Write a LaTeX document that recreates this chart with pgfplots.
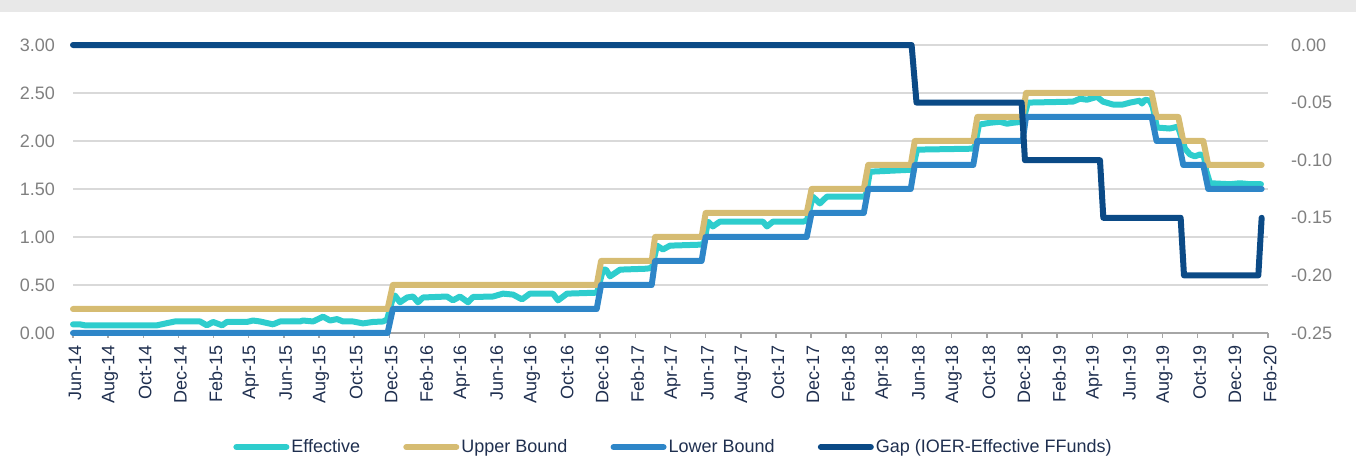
\documentclass[border=0pt]{standalone}
\usepackage{fontspec}
\setmainfont{Liberation Sans}
\usepackage{pgfplots}
\pgfplotsset{compat=1.18}
\definecolor{effc}{HTML}{2ECDCD}
\definecolor{upc}{HTML}{D6BC72}
\definecolor{lowc}{HTML}{2E86C8}
\definecolor{gapc}{HTML}{0B4A86}
\definecolor{gridc}{HTML}{D9D9D9}
\definecolor{axc}{HTML}{A6A6A6}
\definecolor{ytc}{HTML}{808080}
\definecolor{xtc}{HTML}{1F2F4F}
\definecolor{bandc}{HTML}{E8E8E8}
\pgfplotsset{
  common/.style={
    at={(36.5pt,66.5pt)}, anchor=south west, scale only axis,
    width=597.5pt, height=144pt, xmin=0, xmax=68, clip=false,
    ticklabel style={font=\fontsize{9}{10}\selectfont},
    /pgf/number format/assume math mode=true,
    /pgf/number format/.cd, fixed, fixed zerofill, precision=2,
  },
  ser/.style={line width=3pt, line join=round, line cap=round, mark=none},
}
\begin{document}
\begin{tikzpicture}[x=1pt,y=1pt]
\fill[bandc] (0,227) rectangle (678,233);
\path[use as bounding box] (0,0) rectangle (678,233);
\begin{axis}[common,
  ymin=0, ymax=3,
  axis x line*=bottom, axis y line*=left,
  x axis line style={draw=axc, line width=0.75pt, -},
  y axis line style={draw=none},
  xtick={0,2,...,68},
  xticklabels={Jun-14,Aug-14,Oct-14,Dec-14,Feb-15,Apr-15,Jun-15,Aug-15,Oct-15,Dec-15,Feb-16,Apr-16,Jun-16,Aug-16,Oct-16,Dec-16,Feb-17,Apr-17,Jun-17,Aug-17,Oct-17,Dec-17,Feb-18,Apr-18,Jun-18,Aug-18,Oct-18,Dec-18,Feb-19,Apr-19,Jun-19,Aug-19,Oct-19,Dec-19,Feb-20},
  x tick label style={rotate=90, anchor=east, text=xtc, xshift=0pt, yshift=-1pt},
  xtick style={draw=axc, line width=0.75pt},
  xtick align=outside, major tick length=2.5pt,
  ytick={0,0.5,1,1.5,2,2.5,3},
  ytick style={draw=none},
  y tick label style={text=ytc, xshift=-5.5pt},
  ymajorgrids, grid style={gridc, line width=0.75pt},
]
\addplot[ser, effc] coordinates {
(0,0.09)(0.40,0.09)(0.68,0.08)(4.78,0.08)(5.41,0.105)(5.80,0.12)(7.23,0.12)(7.62,0.08)
(7.97,0.115)(8.48,0.08)(8.76,0.115)(9.90,0.115)(10.24,0.13)(10.64,0.12)(11.38,0.09)
(11.78,0.12)(12.91,0.12)(13.09,0.13)(13.66,0.12)(14.23,0.17)(14.63,0.13)(15.02,0.145)
(15.37,0.12)(15.93,0.12)(16.50,0.10)(17.07,0.115)(17.64,0.12)(17.87,0.14)(18.21,0.37)
(18.32,0.39)(18.61,0.32)(19.01,0.37)(19.35,0.38)(19.63,0.32)(19.92,0.37)(21.28,0.38)
(21.62,0.34)(22.02,0.38)(22.48,0.32)(22.76,0.375)(23.90,0.38)(24.47,0.41)(25.04,0.40)
(25.55,0.35)(26.00,0.41)(27.31,0.41)(27.60,0.34)(28.11,0.41)(29.82,0.42)(30.16,0.66)
(30.33,0.66)(30.56,0.59)(31.13,0.66)(32.66,0.67)(32.95,0.68)(33.23,0.91)(33.57,0.87)
(33.97,0.91)(35.68,0.92)(35.90,0.93)(36.13,1.16)(36.41,1.11)(36.81,1.16)(39.26,1.16)
(39.49,1.11)(39.83,1.16)(41.54,1.16)(41.76,1.17)(42.10,1.42)(42.50,1.35)(42.90,1.42)
(45.01,1.42)(45.12,1.44)(45.35,1.68)(47.63,1.70)(47.80,1.72)(48.03,1.91)(51.21,1.92)
(51.33,1.95)(51.55,2.17)(52.18,2.19)(52.75,2.20)(53.15,2.18)(53.49,2.19)(54.00,2.20)
(54.12,2.25)(54.34,2.40)(56.90,2.41)(57.30,2.44)(57.70,2.43)(58.27,2.46)(58.61,2.41)
(59.18,2.38)(59.75,2.38)(60.15,2.40)(60.71,2.42)(60.83,2.39)(61.00,2.43)(61.28,2.42)
(61.45,2.35)(61.68,2.14)(62.42,2.13)(62.88,2.15)(63.05,2.05)(63.28,1.92)(63.56,1.86)
(63.84,1.84)(64.13,1.86)(64.36,1.84)(64.47,1.70)(64.70,1.56)(65.84,1.55)(66.41,1.56)
(66.98,1.55)(67.60,1.55)
};
\addplot[ser, upc] coordinates {
(0,0.25)(17.9,0.25)(18.2,0.5)(29.8,0.5)(30.05,0.75)(32.93,0.75)(33.12,1.0)(35.77,1.0)
(36.0,1.25)(41.75,1.25)(42.03,1.5)(45.0,1.5)(45.25,1.75)(47.67,1.75)(47.9,2.0)(51.23,2.0)
(51.46,2.25)(54.04,2.25)(54.23,2.5)(61.38,2.5)(61.66,2.25)(62.9,2.25)(63.18,2.0)(64.32,2.0)
(64.6,1.75)(67.64,1.75)
};
\addplot[ser, lowc] coordinates {
(0,0)(17.9,0)(18.2,0.25)(29.8,0.25)(30.05,0.5)(32.93,0.5)(33.12,0.75)(35.77,0.75)
(36.0,1.0)(41.75,1.0)(42.03,1.25)(45.0,1.25)(45.25,1.5)(47.67,1.5)(47.9,1.75)(51.23,1.75)
(51.46,2.0)(54.04,2.0)(54.23,2.25)(61.38,2.25)(61.66,2.0)(62.9,2.0)(63.18,1.75)(64.32,1.75)
(64.6,1.5)(67.64,1.5)
};
\end{axis}
\begin{axis}[common,
  ymin=-0.25, ymax=0,
  axis x line=none, axis y line*=right,
  y axis line style={draw=none},
  ytick={-0.25,-0.2,-0.15,-0.1,-0.05,0},
  ytick style={draw=none},
  y tick label style={text=ytc, xshift=8pt},
  legend style={at={(0.5025,-0.396)}, anchor=center, draw=none, fill=none,
    legend columns=4, font=\fontsize{9}{10}\selectfont, text=xtc,
    nodes={inner sep=1pt},
    /tikz/every even column/.append style={column sep=20.6pt}},
  legend image code/.code={\draw[#1, line width=3pt, line cap=round] (1.5pt,0pt) -- (26.5pt,0pt);},
]
\addlegendimage{effc}
\addlegendimage{upc}
\addlegendimage{lowc}
\addplot[ser, gapc] coordinates {
(0,0)(47.72,0)(48.0,-0.05)(53.98,-0.05)(54.17,-0.10)(58.44,-0.10)(58.63,-0.15)
(63.03,-0.15)(63.22,-0.20)(67.45,-0.20)(67.64,-0.15)
};
\legend{Effective,Upper Bound,Lower Bound,Gap (IOER-Effective FFunds)}
\end{axis}
\end{tikzpicture}
\end{document}
